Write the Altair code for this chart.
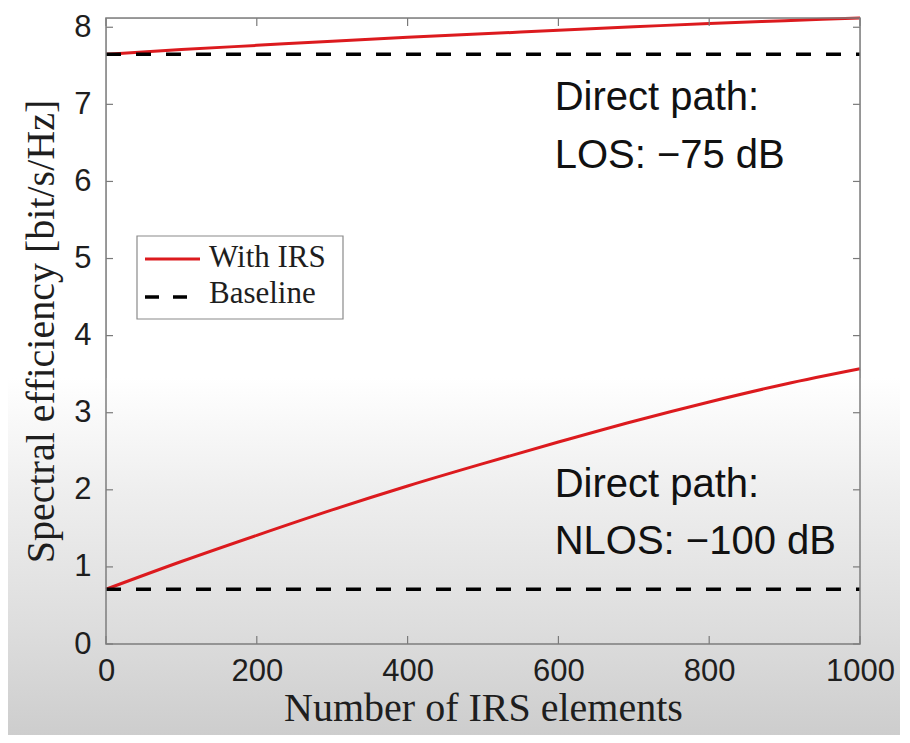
import altair as alt
import pandas as pd

# ---------------- data ----------------
n_elements = [0, 100, 200, 300, 400, 500, 600, 700, 800, 900, 1000]
irs_los = [7.65, 7.71, 7.765, 7.82, 7.87, 7.915, 7.96, 8.005, 8.05, 8.085, 8.12]
irs_nlos = [0.71, 1.07, 1.41, 1.74, 2.05, 2.34, 2.62, 2.89, 3.14, 3.37, 3.57]
base_los = [7.65] * len(n_elements)
base_nlos = [0.71] * len(n_elements)

series_names = ["With IRS", "Baseline"]
x_ticks = [0, 200, 400, 600, 800, 1000]
y_ticks = [0, 1, 2, 3, 4, 5, 6, 7, 8]

ann_x = [595, 595, 595, 595]
ann_y = [6.93, 6.18, 1.91, 1.17]
ann_text = ["Direct path:", "LOS: \u221275 dB", "Direct path:", "NLOS: \u2212100 dB"]

# ---------------- layout ----------------
W, H = 754, 626
TOP = 10
XDOM = [0, 1000]
YDOM = [0, 8.12]
RED = "#dc1a1e"
SANS = "Liberation Sans"
SERIF = "Liberation Serif"
TXT = "#1e1e1e"

rows = []
for i, n in enumerate(n_elements):
    rows.append({"n": n, "se": irs_los[i], "series": "With IRS", "case": "LOS"})
    rows.append({"n": n, "se": irs_nlos[i], "series": "With IRS", "case": "NLOS"})
    rows.append({"n": n, "se": base_los[i], "series": "Baseline", "case": "LOS"})
    rows.append({"n": n, "se": base_nlos[i], "series": "Baseline", "case": "NLOS"})
df = pd.DataFrame(rows)

one = pd.DataFrame({"a": [0]})

xscale = alt.Scale(domain=XDOM, nice=False, zero=False)
yscale = alt.Scale(domain=YDOM, nice=False, zero=False)

XTITLE = "Number of IRS elements"
YTITLE = "Spectral efficiency [bit/s/Hz]"

x_axis = alt.Axis(
    values=x_ticks, format="d", tickSize=0, domain=False, grid=False,
    labelFont=SANS, labelFontSize=31, labelColor=TXT, labelPadding=12,
    titleFont=SERIF, titleFontSize=40, titleFontWeight="normal", titleColor=TXT,
    titlePadding=2, zindex=1, labelFlush=False,
)
y_axis = alt.Axis(
    values=y_ticks, format="d", tickSize=0, domain=False, grid=False,
    labelFont=SANS, labelFontSize=31, labelColor=TXT, labelPadding=15,
    titleFont=SERIF, titleFontSize=40, titleFontWeight="normal", titleColor=TXT,
    titlePadding=12, zindex=1, labelFlush=False,
)

# background fade of the screenshot
grad = alt.Chart(one).mark_rect(
    color=alt.LinearGradient(
        gradient="linear", x1=0, x2=0, y1=0, y2=1,
        stops=[
            alt.GradientStop(color="#ffffff", offset=0),
            alt.GradientStop(color="#eeeeee", offset=0.3),
            alt.GradientStop(color="#dddddd", offset=0.65),
            alt.GradientStop(color="#c9c9c9", offset=1),
        ],
    )
).encode(x=alt.value(-110), x2=alt.value(W + 60), y=alt.value(370 - TOP), y2=alt.value(745))

base = alt.Chart(df)

irs = base.transform_filter(alt.datum.series == "With IRS").mark_line(
    color=RED, strokeWidth=3, interpolate="monotone"
).encode(
    x=alt.X("n:Q", scale=xscale, axis=x_axis, title=XTITLE),
    y=alt.Y("se:Q", scale=yscale, axis=y_axis, title=YTITLE),
    detail="case:N",
)

bl = base.transform_filter(alt.datum.series == "Baseline").mark_line(
    color="black", strokeWidth=3.5, strokeDash=[15, 15]
).encode(
    x=alt.X("n:Q", scale=xscale, title=XTITLE),
    y=alt.Y("se:Q", scale=yscale, title=YTITLE),
    detail="case:N",
)

# inward ticks (MATLAB style)
xt = pd.DataFrame({"n": x_ticks})
yt = pd.DataFrame({"se": y_ticks})
tick_color = "#7a7a7a"
xt_bottom = alt.Chart(xt).mark_rule(color=tick_color, strokeWidth=1.2).encode(
    x=alt.X("n:Q", scale=xscale, title=XTITLE), y=alt.value(H), y2=alt.value(H - 8))
xt_top = alt.Chart(xt).mark_rule(color=tick_color, strokeWidth=1.2).encode(
    x=alt.X("n:Q", scale=xscale, title=XTITLE), y=alt.value(0), y2=alt.value(8))
yt_left = alt.Chart(yt).mark_rule(color=tick_color, strokeWidth=1.2).encode(
    y=alt.Y("se:Q", scale=yscale, title=YTITLE), x=alt.value(0), x2=alt.value(7))
yt_right = alt.Chart(yt).mark_rule(color=tick_color, strokeWidth=1.2).encode(
    y=alt.Y("se:Q", scale=yscale, title=YTITLE), x=alt.value(W), x2=alt.value(W - 7))

# frame
frame = alt.Chart(one).mark_rect(filled=False, stroke="#7d7d7d", strokeWidth=1.5).encode(
    x=alt.value(0), x2=alt.value(W), y=alt.value(0), y2=alt.value(H))

# annotations
ann = pd.DataFrame({"n": ann_x, "se": ann_y, "t": ann_text})
notes = alt.Chart(ann).mark_text(
    font=SANS, fontSize=40, color="#111111", align="left", baseline="alphabetic"
).encode(
    x=alt.X("n:Q", scale=xscale, title=XTITLE),
    y=alt.Y("se:Q", scale=yscale, title=YTITLE),
    text="t:N",
)

# legend (drawn manually, MATLAB look)
leg_box = alt.Chart(one).mark_rect(fill="white", stroke="#8a8a8a", strokeWidth=1.2).encode(
    x=alt.value(31), x2=alt.value(237), y=alt.value(236 - 8 - TOP), y2=alt.value(319 - 8 - TOP))
leg_l1 = alt.Chart(one).mark_rule(color=RED, strokeWidth=3).encode(
    x=alt.value(39), x2=alt.value(94), y=alt.value(259 - 8 - TOP))
leg_l2 = alt.Chart(one).mark_rule(color="black", strokeWidth=3.5, strokeDash=[14, 14]).encode(
    x=alt.value(39), x2=alt.value(94), y=alt.value(297 - 8 - TOP))
leg_t1 = alt.Chart(one).mark_text(
    font=SERIF, fontSize=31, color=TXT, align="left", baseline="alphabetic", text=series_names[0]
).encode(x=alt.value(103), y=alt.value(267 - 8 - TOP))
leg_t2 = alt.Chart(one).mark_text(
    font=SERIF, fontSize=31, color=TXT, align="left", baseline="alphabetic", text=series_names[1]
).encode(x=alt.value(103), y=alt.value(303 - 8 - TOP))

chart = alt.layer(
    grad, irs, bl, xt_bottom, xt_top, yt_left, yt_right, frame, notes,
    leg_box, leg_l1, leg_l2, leg_t1, leg_t2,
).properties(
    width=W, height=H,
    autosize=alt.AutoSizeParams(type="none"),
    padding={"left": 98, "top": TOP, "right": 40, "bottom": 91},
).configure_view(stroke=None).configure(background="white")

chart.save("out.html", embed_options={"renderer": "svg", "actions": False})
